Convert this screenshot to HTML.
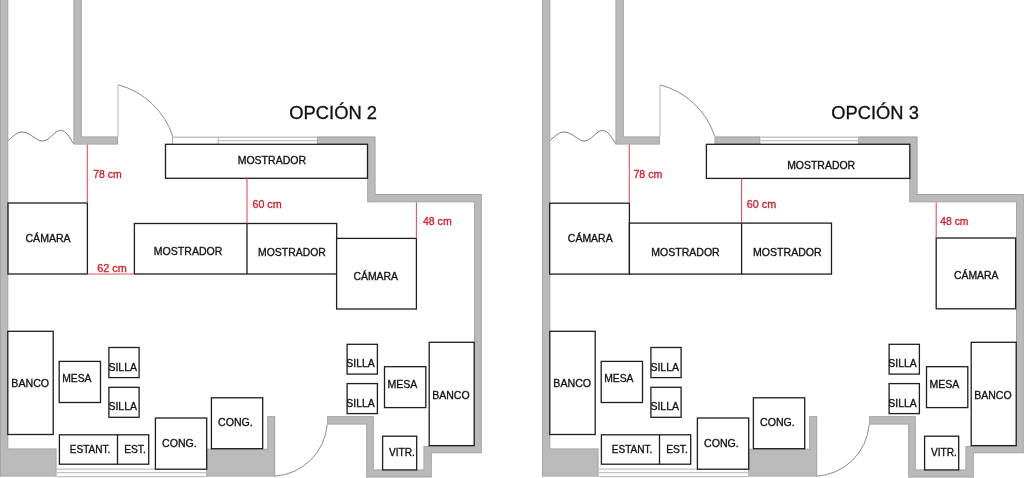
<!DOCTYPE html>
<html><head><meta charset="utf-8"><style>
html,body{margin:0;padding:0;background:#fff;}
body{width:1024px;height:478px;overflow:hidden;}
svg{display:block;will-change:transform;}
text{font-family:"Liberation Sans",sans-serif;}
</style></head><body>
<svg width="1024" height="478" viewBox="0 0 1024 478">
<rect width="1024" height="478" fill="#fff"/>
<clipPath id="c1"><polygon points="0.00,-5.00 8.30,-5.00 8.30,448.50 56.50,448.50 56.50,476.60 0.00,476.60"/></clipPath>
<polygon points="0.00,-5.00 8.30,-5.00 8.30,448.50 56.50,448.50 56.50,476.60 0.00,476.60" fill="#bababa" stroke="#a0a0a0" stroke-width="1.6" clip-path="url(#c1)"/>
<clipPath id="c2"><polygon points="73.50,-5.00 81.70,-5.00 81.70,136.50 118.00,136.50 118.00,144.50 73.50,144.50"/></clipPath>
<polygon points="73.50,-5.00 81.70,-5.00 81.70,136.50 118.00,136.50 118.00,144.50 73.50,144.50" fill="#bababa" stroke="#a0a0a0" stroke-width="1.6" clip-path="url(#c2)"/>
<clipPath id="c3"><polygon points="317.00,136.60 375.50,136.60 375.50,194.10 481.70,194.10 481.70,453.30 431.70,453.30 431.70,477.40 366.30,477.40 366.30,424.50 327.20,424.50 327.20,416.30 373.70,416.30 373.70,469.50 423.50,469.50 423.50,446.00 474.00,446.00 474.00,202.30 367.30,202.30 367.30,144.30 317.00,144.30"/></clipPath>
<polygon points="317.00,136.60 375.50,136.60 375.50,194.10 481.70,194.10 481.70,453.30 431.70,453.30 431.70,477.40 366.30,477.40 366.30,424.50 327.20,424.50 327.20,416.30 373.70,416.30 373.70,469.50 423.50,469.50 423.50,446.00 474.00,446.00 474.00,202.30 367.30,202.30 367.30,144.30 317.00,144.30" fill="#bababa" stroke="#a0a0a0" stroke-width="1.6" clip-path="url(#c3)"/>
<clipPath id="c4"><polygon points="267.30,416.30 275.20,416.30 275.20,476.50 206.30,476.50 206.30,448.70 267.30,448.70"/></clipPath>
<polygon points="267.30,416.30 275.20,416.30 275.20,476.50 206.30,476.50 206.30,448.70 267.30,448.70" fill="#bababa" stroke="#a0a0a0" stroke-width="1.6" clip-path="url(#c4)"/>
<line x1="172.50" y1="137.20" x2="317.00" y2="137.20" stroke="#c4c4c4" stroke-width="1.4"/>
<line x1="218.20" y1="140.60" x2="317.00" y2="140.60" stroke="#c4c4c4" stroke-width="1.2"/>
<line x1="172.50" y1="137.00" x2="172.50" y2="144.00" stroke="#b0b0b0" stroke-width="1.0"/>
<line x1="218.20" y1="137.00" x2="218.20" y2="144.00" stroke="#b0b0b0" stroke-width="1.0"/>
<line x1="56.50" y1="469.20" x2="206.70" y2="469.20" stroke="#c4c4c4" stroke-width="1.2"/>
<line x1="56.50" y1="472.70" x2="206.70" y2="472.70" stroke="#c4c4c4" stroke-width="1.2"/>
<line x1="56.50" y1="476.70" x2="206.70" y2="476.70" stroke="#c4c4c4" stroke-width="1.2"/>
<line x1="118.00" y1="85.00" x2="118.00" y2="136.50" stroke="#c0c0c0" stroke-width="1.2"/>
<path d="M118.45,84.9 A78.6,78.6 0 0 1 172.8,136.5" fill="none" stroke="#8a8a8a" stroke-width="1.0"/>
<path d="M327.2,424.6 A56.3,56.3 0 0 1 274.8,476.2" fill="none" stroke="#8a8a8a" stroke-width="1.0"/>
<path d="M8.3,140.5 C14,135 18,132 22,132 C30,132 36,141 42,141 C50,141 54,130.4 60.6,130.4 C66,130.4 70,138 73.5,143.6" fill="none" stroke="#7a7a7a" stroke-width="1.0"/>
<rect x="165.50" y="144.30" width="202.00" height="34.00" fill="#fff" stroke="#1e1e1e" stroke-width="1.3"/>
<text x="237.63" y="164.00" font-size="10.547" fill="#111" stroke="#111" stroke-width="0.32">MOSTRADOR</text>
<rect x="8.00" y="203.00" width="79.40" height="71.00" fill="#fff" stroke="#1e1e1e" stroke-width="1.3"/>
<text x="25.46" y="241.80" font-size="10.578" fill="#111" stroke="#111" stroke-width="0.32">CÁMARA</text>
<rect x="134.40" y="223.50" width="202.30" height="50.50" fill="#fff" stroke="#1e1e1e" stroke-width="1.3"/>
<line x1="247.00" y1="223.50" x2="247.00" y2="274.00" stroke="#1e1e1e" stroke-width="1.3"/>
<text x="153.83" y="255.30" font-size="10.563" fill="#111" stroke="#111" stroke-width="0.32">MOSTRADOR</text>
<text x="258.04" y="255.70" font-size="10.453" fill="#111" stroke="#111" stroke-width="0.32">MOSTRADOR</text>
<rect x="336.60" y="238.40" width="79.80" height="70.60" fill="#fff" stroke="#1e1e1e" stroke-width="1.3"/>
<text x="353.47" y="279.80" font-size="10.413" fill="#111" stroke="#111" stroke-width="0.32">CÁMARA</text>
<line x1="87.30" y1="144.50" x2="87.30" y2="203.00" stroke="#e2525a" stroke-width="1.1"/>
<text x="93.26" y="177.90" font-size="10.438" fill="#d41e2a" stroke="#d41e2a" stroke-width="0.32">78 cm</text>
<line x1="247.00" y1="178.30" x2="247.00" y2="223.50" stroke="#e2525a" stroke-width="1.1"/>
<text x="252.45" y="207.50" font-size="10.743" fill="#d41e2a" stroke="#d41e2a" stroke-width="0.32">60 cm</text>
<line x1="416.40" y1="202.30" x2="416.40" y2="238.40" stroke="#e2525a" stroke-width="1.1"/>
<text x="422.96" y="224.80" font-size="10.553" fill="#d41e2a" stroke="#d41e2a" stroke-width="0.32">48 cm</text>
<line x1="87.40" y1="274.00" x2="134.40" y2="274.00" stroke="#e2525a" stroke-width="1.1"/>
<text x="97.15" y="272.20" font-size="10.858" fill="#d41e2a" stroke="#d41e2a" stroke-width="0.32">62 cm</text>
<text x="289.33" y="118.60" font-size="18.350" fill="#111" stroke="#111" stroke-width="0.32">OPCIÓN 2</text>
<rect x="7.80" y="331.30" width="45.40" height="103.20" fill="#fff" stroke="#1e1e1e" stroke-width="1.3"/>
<text x="11.33" y="386.90" font-size="10.624" fill="#111" stroke="#111" stroke-width="0.32">BANCO</text>
<rect x="59.20" y="361.40" width="41.30" height="41.10" fill="#fff" stroke="#1e1e1e" stroke-width="1.3"/>
<text x="62.15" y="382.10" font-size="10.364" fill="#111" stroke="#111" stroke-width="0.32">MESA</text>
<rect x="108.90" y="347.50" width="30.20" height="30.10" fill="#fff" stroke="#1e1e1e" stroke-width="1.3"/>
<text x="108.42" y="370.60" font-size="10.498" fill="#111" stroke="#111" stroke-width="0.32">SILLA</text>
<rect x="108.90" y="387.30" width="30.20" height="30.00" fill="#fff" stroke="#1e1e1e" stroke-width="1.3"/>
<text x="108.42" y="409.90" font-size="10.498" fill="#111" stroke="#111" stroke-width="0.32">SILLA</text>
<rect x="59.40" y="434.80" width="89.30" height="29.40" fill="#fff" stroke="#1e1e1e" stroke-width="1.3"/>
<line x1="117.50" y1="434.80" x2="117.50" y2="464.20" stroke="#1e1e1e" stroke-width="1.3"/>
<text x="69.78" y="452.80" font-size="10.051" fill="#111" stroke="#111" stroke-width="0.32">ESTANT.</text>
<text x="124.16" y="452.80" font-size="10.296" fill="#111" stroke="#111" stroke-width="0.32">EST.</text>
<rect x="155.40" y="418.00" width="51.30" height="51.20" fill="#fff" stroke="#1e1e1e" stroke-width="1.3"/>
<text x="162.06" y="446.70" font-size="10.588" fill="#111" stroke="#111" stroke-width="0.32">CONG.</text>
<rect x="211.40" y="397.80" width="51.30" height="50.90" fill="#fff" stroke="#1e1e1e" stroke-width="1.3"/>
<text x="218.06" y="426.20" font-size="10.588" fill="#111" stroke="#111" stroke-width="0.32">CONG.</text>
<rect x="347.10" y="344.30" width="30.30" height="29.80" fill="#fff" stroke="#1e1e1e" stroke-width="1.3"/>
<text x="346.33" y="367.00" font-size="10.423" fill="#111" stroke="#111" stroke-width="0.32">SILLA</text>
<rect x="347.10" y="383.60" width="30.30" height="30.00" fill="#fff" stroke="#1e1e1e" stroke-width="1.3"/>
<text x="346.33" y="406.50" font-size="10.423" fill="#111" stroke="#111" stroke-width="0.32">SILLA</text>
<rect x="384.50" y="366.70" width="41.30" height="40.90" fill="#fff" stroke="#1e1e1e" stroke-width="1.3"/>
<text x="387.53" y="387.80" font-size="10.545" fill="#111" stroke="#111" stroke-width="0.32">MESA</text>
<rect x="429.20" y="342.30" width="45.00" height="103.30" fill="#fff" stroke="#1e1e1e" stroke-width="1.3"/>
<text x="432.24" y="398.50" font-size="10.536" fill="#111" stroke="#111" stroke-width="0.32">BANCO</text>
<rect x="382.60" y="436.20" width="34.10" height="33.70" fill="#fff" stroke="#1e1e1e" stroke-width="1.3"/>
<text x="388.96" y="455.50" font-size="10.163" fill="#111" stroke="#111" stroke-width="0.32">VITR.</text>
<clipPath id="c5"><polygon points="542.00,-5.00 550.30,-5.00 550.30,448.50 598.50,448.50 598.50,476.60 542.00,476.60"/></clipPath>
<polygon points="542.00,-5.00 550.30,-5.00 550.30,448.50 598.50,448.50 598.50,476.60 542.00,476.60" fill="#bababa" stroke="#a0a0a0" stroke-width="1.6" clip-path="url(#c5)"/>
<clipPath id="c6"><polygon points="615.50,-5.00 623.70,-5.00 623.70,136.50 660.00,136.50 660.00,144.50 615.50,144.50"/></clipPath>
<polygon points="615.50,-5.00 623.70,-5.00 623.70,136.50 660.00,136.50 660.00,144.50 615.50,144.50" fill="#bababa" stroke="#a0a0a0" stroke-width="1.6" clip-path="url(#c6)"/>
<clipPath id="c7"><polygon points="858.30,136.60 917.50,136.60 917.50,194.10 1023.70,194.10 1023.70,453.30 973.70,453.30 973.70,477.40 908.30,477.40 908.30,424.50 869.20,424.50 869.20,416.30 915.70,416.30 915.70,469.50 965.50,469.50 965.50,446.00 1016.00,446.00 1016.00,202.30 909.30,202.30 909.30,144.30 858.30,144.30"/></clipPath>
<polygon points="858.30,136.60 917.50,136.60 917.50,194.10 1023.70,194.10 1023.70,453.30 973.70,453.30 973.70,477.40 908.30,477.40 908.30,424.50 869.20,424.50 869.20,416.30 915.70,416.30 915.70,469.50 965.50,469.50 965.50,446.00 1016.00,446.00 1016.00,202.30 909.30,202.30 909.30,144.30 858.30,144.30" fill="#bababa" stroke="#a0a0a0" stroke-width="1.6" clip-path="url(#c7)"/>
<clipPath id="c8"><polygon points="714.60,136.60 760.30,136.60 760.30,144.30 714.60,144.30"/></clipPath>
<polygon points="714.60,136.60 760.30,136.60 760.30,144.30 714.60,144.30" fill="#bababa" stroke="#a0a0a0" stroke-width="1.6" clip-path="url(#c8)"/>
<clipPath id="c9"><polygon points="809.30,416.30 817.20,416.30 817.20,476.50 748.30,476.50 748.30,448.70 809.30,448.70"/></clipPath>
<polygon points="809.30,416.30 817.20,416.30 817.20,476.50 748.30,476.50 748.30,448.70 809.30,448.70" fill="#bababa" stroke="#a0a0a0" stroke-width="1.6" clip-path="url(#c9)"/>
<line x1="760.30" y1="137.20" x2="858.30" y2="137.20" stroke="#c4c4c4" stroke-width="1.4"/>
<line x1="760.30" y1="140.60" x2="858.30" y2="140.60" stroke="#c4c4c4" stroke-width="1.2"/>
<line x1="598.50" y1="469.20" x2="748.70" y2="469.20" stroke="#c4c4c4" stroke-width="1.2"/>
<line x1="598.50" y1="472.70" x2="748.70" y2="472.70" stroke="#c4c4c4" stroke-width="1.2"/>
<line x1="598.50" y1="476.70" x2="748.70" y2="476.70" stroke="#c4c4c4" stroke-width="1.2"/>
<line x1="660.00" y1="85.00" x2="660.00" y2="136.50" stroke="#c0c0c0" stroke-width="1.2"/>
<path d="M660.45,84.9 A78.6,78.6 0 0 1 714.8,136.5" fill="none" stroke="#8a8a8a" stroke-width="1.0"/>
<path d="M869.2,424.6 A56.3,56.3 0 0 1 816.8,476.2" fill="none" stroke="#8a8a8a" stroke-width="1.0"/>
<path d="M550.3,140.5 C556,135 560,132 564,132 C572,132 578,141 584,141 C592,141 596,130.4 602.6,130.4 C608,130.4 612,138 615.5,143.6" fill="none" stroke="#7a7a7a" stroke-width="1.0"/>
<rect x="706.40" y="144.30" width="203.40" height="34.10" fill="#fff" stroke="#1e1e1e" stroke-width="1.3"/>
<text x="787.14" y="168.80" font-size="10.484" fill="#111" stroke="#111" stroke-width="0.32">MOSTRADOR</text>
<rect x="549.70" y="203.20" width="79.70" height="70.90" fill="#fff" stroke="#1e1e1e" stroke-width="1.3"/>
<text x="567.87" y="242.10" font-size="10.484" fill="#111" stroke="#111" stroke-width="0.32">CÁMARA</text>
<rect x="629.40" y="223.10" width="202.10" height="51.00" fill="#fff" stroke="#1e1e1e" stroke-width="1.3"/>
<line x1="741.60" y1="223.10" x2="741.60" y2="274.10" stroke="#1e1e1e" stroke-width="1.3"/>
<text x="651.34" y="255.80" font-size="10.531" fill="#111" stroke="#111" stroke-width="0.32">MOSTRADOR</text>
<text x="753.03" y="255.80" font-size="10.578" fill="#111" stroke="#111" stroke-width="0.32">MOSTRADOR</text>
<rect x="936.20" y="238.00" width="79.40" height="70.80" fill="#fff" stroke="#1e1e1e" stroke-width="1.3"/>
<text x="954.07" y="279.00" font-size="10.389" fill="#111" stroke="#111" stroke-width="0.32">CÁMARA</text>
<line x1="629.30" y1="144.50" x2="629.30" y2="203.20" stroke="#e2525a" stroke-width="1.1"/>
<text x="633.46" y="177.90" font-size="10.629" fill="#d41e2a" stroke="#d41e2a" stroke-width="0.32">78 cm</text>
<line x1="741.60" y1="178.40" x2="741.60" y2="223.10" stroke="#e2525a" stroke-width="1.1"/>
<text x="746.85" y="207.50" font-size="10.781" fill="#d41e2a" stroke="#d41e2a" stroke-width="0.32">60 cm</text>
<line x1="936.20" y1="202.30" x2="936.20" y2="238.00" stroke="#e2525a" stroke-width="1.1"/>
<text x="940.36" y="224.50" font-size="10.325" fill="#d41e2a" stroke="#d41e2a" stroke-width="0.32">48 cm</text>
<text x="831.33" y="118.60" font-size="18.325" fill="#111" stroke="#111" stroke-width="0.32">OPCIÓN 3</text>
<rect x="549.80" y="331.30" width="45.40" height="103.20" fill="#fff" stroke="#1e1e1e" stroke-width="1.3"/>
<text x="553.33" y="386.90" font-size="10.624" fill="#111" stroke="#111" stroke-width="0.32">BANCO</text>
<rect x="601.20" y="361.40" width="41.30" height="41.10" fill="#fff" stroke="#1e1e1e" stroke-width="1.3"/>
<text x="604.15" y="382.10" font-size="10.364" fill="#111" stroke="#111" stroke-width="0.32">MESA</text>
<rect x="650.90" y="347.50" width="30.20" height="30.10" fill="#fff" stroke="#1e1e1e" stroke-width="1.3"/>
<text x="650.42" y="370.60" font-size="10.498" fill="#111" stroke="#111" stroke-width="0.32">SILLA</text>
<rect x="650.90" y="387.30" width="30.20" height="30.00" fill="#fff" stroke="#1e1e1e" stroke-width="1.3"/>
<text x="650.42" y="409.90" font-size="10.498" fill="#111" stroke="#111" stroke-width="0.32">SILLA</text>
<rect x="601.40" y="434.80" width="89.30" height="29.40" fill="#fff" stroke="#1e1e1e" stroke-width="1.3"/>
<line x1="659.50" y1="434.80" x2="659.50" y2="464.20" stroke="#1e1e1e" stroke-width="1.3"/>
<text x="611.78" y="452.80" font-size="10.051" fill="#111" stroke="#111" stroke-width="0.32">ESTANT.</text>
<text x="666.16" y="452.80" font-size="10.296" fill="#111" stroke="#111" stroke-width="0.32">EST.</text>
<rect x="697.40" y="418.00" width="51.30" height="51.20" fill="#fff" stroke="#1e1e1e" stroke-width="1.3"/>
<text x="704.06" y="446.70" font-size="10.588" fill="#111" stroke="#111" stroke-width="0.32">CONG.</text>
<rect x="753.40" y="397.80" width="51.30" height="50.90" fill="#fff" stroke="#1e1e1e" stroke-width="1.3"/>
<text x="760.06" y="426.20" font-size="10.588" fill="#111" stroke="#111" stroke-width="0.32">CONG.</text>
<rect x="889.10" y="344.30" width="30.30" height="29.80" fill="#fff" stroke="#1e1e1e" stroke-width="1.3"/>
<text x="888.33" y="367.00" font-size="10.423" fill="#111" stroke="#111" stroke-width="0.32">SILLA</text>
<rect x="889.10" y="383.60" width="30.30" height="30.00" fill="#fff" stroke="#1e1e1e" stroke-width="1.3"/>
<text x="888.33" y="406.50" font-size="10.423" fill="#111" stroke="#111" stroke-width="0.32">SILLA</text>
<rect x="926.50" y="366.70" width="41.30" height="40.90" fill="#fff" stroke="#1e1e1e" stroke-width="1.3"/>
<text x="929.53" y="387.80" font-size="10.545" fill="#111" stroke="#111" stroke-width="0.32">MESA</text>
<rect x="971.20" y="342.30" width="45.00" height="103.30" fill="#fff" stroke="#1e1e1e" stroke-width="1.3"/>
<text x="974.24" y="398.50" font-size="10.536" fill="#111" stroke="#111" stroke-width="0.32">BANCO</text>
<rect x="924.60" y="436.20" width="34.10" height="33.70" fill="#fff" stroke="#1e1e1e" stroke-width="1.3"/>
<text x="930.96" y="455.50" font-size="10.163" fill="#111" stroke="#111" stroke-width="0.32">VITR.</text>
</svg>
</body></html>
